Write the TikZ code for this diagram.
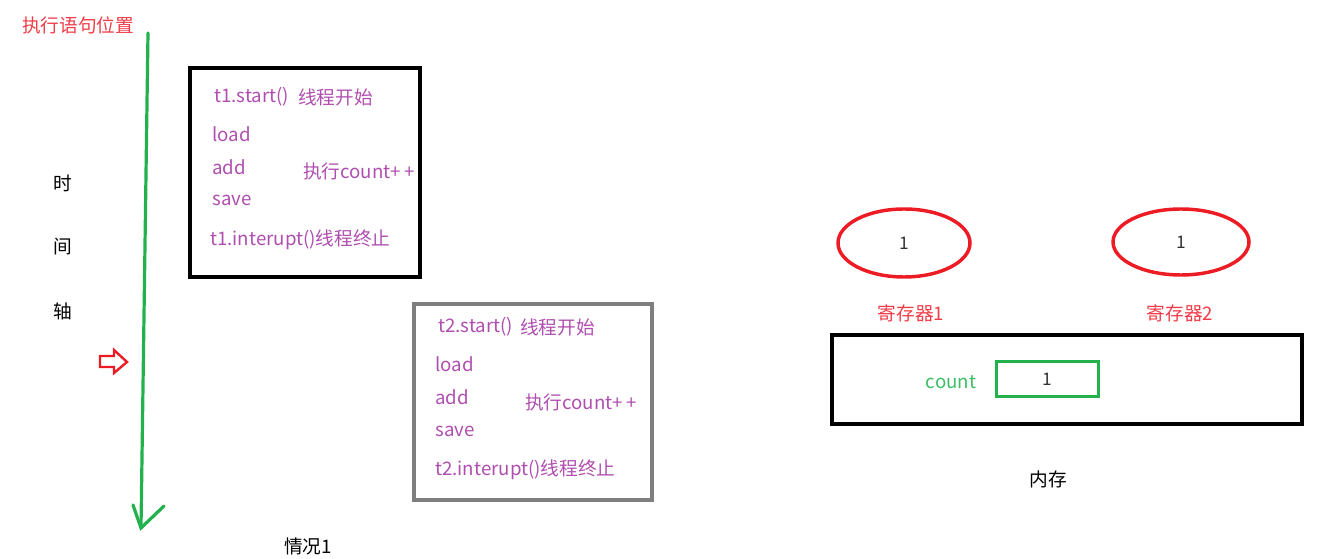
\documentclass[tikz,border=0pt]{standalone}
\usepackage{fontspec}
\setmainfont{Noto Sans CJK SC}
\usetikzlibrary{shapes.geometric}
\definecolor{tred}{RGB}{240,60,72}
\definecolor{ered}{RGB}{237,28,36}
\definecolor{tpurple}{RGB}{176,78,176}
\definecolor{lgreen}{RGB}{34,177,76}
\definecolor{tgreen}{RGB}{60,190,100}
\definecolor{gboxc}{RGB}{127,127,127}
\definecolor{dgray}{RGB}{50,50,50}
\tikzset{
  txt/.style={inner sep=0pt, font=\fontsize{14}{16}\selectfont},
  ptxt/.style={txt, text=tpurple, anchor=west},
  codebox/.style={line width=3pt, inner sep=0pt},
  reg/.style={draw=ered, line width=2.6pt, ellipse, inner sep=0pt, text=dgray, font=\fontsize{13}{14}\selectfont},
}
\begin{document}
\begin{tikzpicture}[x=0.75pt,y=-0.75pt]
\useasboundingbox (0,0) rectangle (1322,559);
% title
\node[txt, text=tred] (title) at (78,25) {执行语句位置};
% time axis
\coordinate (axtop) at (148,33);
\coordinate (axbot) at (141,528);
\draw[lgreen, line width=2.4pt, line cap=round] (axtop) -- (axbot);
\coordinate (ahl) at (133,505);
\coordinate (ahr) at (164,506);
\draw[lgreen, line width=2.4pt, line cap=round] (ahl) -- (axbot) -- (ahr);
\node[txt] (t1) at (63,183) {时};
\node[txt] (t2) at (63,247) {间};
\node[txt] (t3) at (63,311) {轴};
% red pointer arrow
\draw[ered, line width=1.8pt, fill=white, line join=miter]
  (100,356) -- (114,356) -- (114,350) -- (127,362) -- (114,373) -- (114,367) -- (100,367) -- cycle;
% box 1
\node[draw=black, codebox, minimum width=172.5pt, minimum height=156.75pt] (box1) at (305,172.5) {};
\node[ptxt] (b1s) at (214,97) {t1.start()};
\node[ptxt] (b1st) at (298,97) {线程开始};
\node[ptxt] (b1l) at (212,134) {load};
\node[ptxt] (b1a) at (212,167) {add};
\node[ptxt] (b1v) at (212,200) {save};
\node[ptxt] (b1c) at (303,171) {执行count+\,+};
\node[ptxt] (b1i) at (210,240) {t1.interupt()线程终止};
% box 2
\node[draw=gboxc, codebox, minimum width=178.5pt, minimum height=147pt] (box2) at (533,402) {};
\node[ptxt] (b2s) at (438,327) {t2.start()};
\node[ptxt] (b2st) at (520,327) {线程开始};
\node[ptxt] (b2l) at (435,364) {load};
\node[ptxt] (b2a) at (435,397) {add};
\node[ptxt] (b2v) at (435,431) {save};
\node[ptxt] (b2c) at (525,402) {执行count+\,+};
\node[ptxt] (b2i) at (435,470) {t2.interupt()线程终止};
\node[txt] (case) at (308,546) {情况1};
% registers
\node[reg, minimum width=99pt, minimum height=51pt] (r1) at (904,243) {1};
\node[reg, minimum width=102pt, minimum height=49.5pt] (r2) at (1181,242) {1};
\node[txt, text=tred] (r1l) at (911,313) {寄存器1};
\node[txt, text=tred] (r2l) at (1180,313) {寄存器2};
% memory
\node[draw=black, codebox, minimum width=352.5pt, minimum height=66.75pt] (mem) at (1067,379.5) {};
\node[txt, text=tgreen] (cnt) at (951,382) {count};
\node[draw=lgreen, line width=2.4pt, minimum width=76.5pt, minimum height=26.25pt, inner sep=0pt, text=dgray, font=\fontsize{13}{14}\selectfont] (cbox) at (1047.5,379) {1};
\node[txt] (meml) at (1048,479) {内存};
\end{tikzpicture}
\end{document}
